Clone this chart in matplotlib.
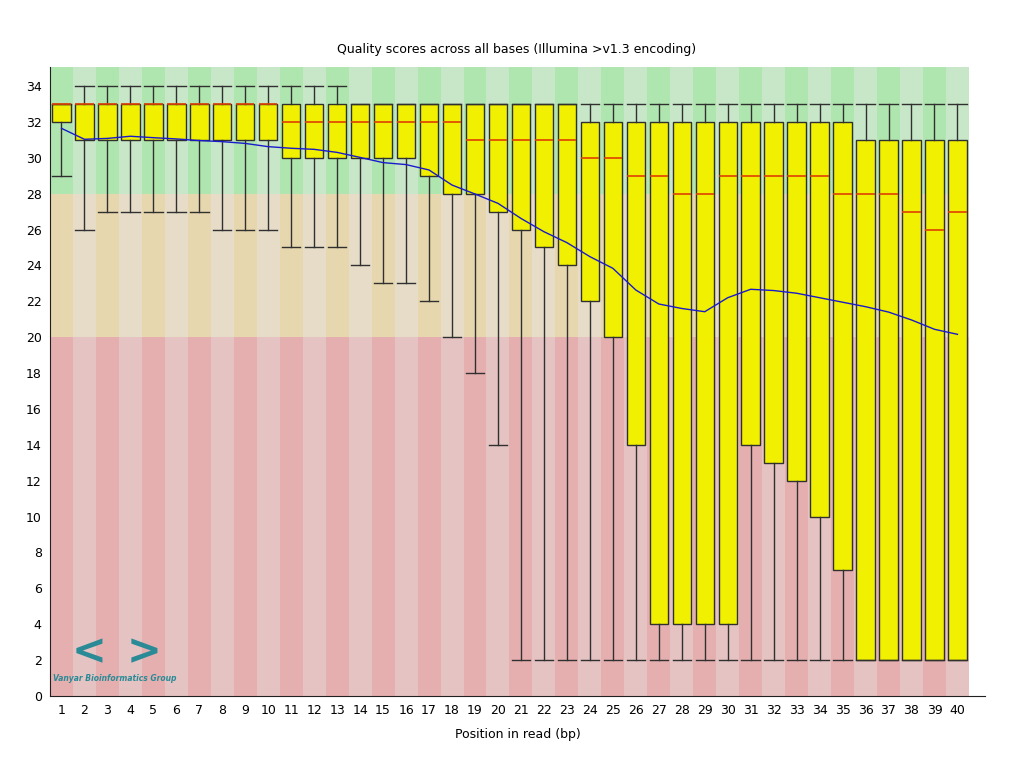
import matplotlib
matplotlib.use("Agg")
import matplotlib.pyplot as plt
import numpy as np

# per-base quality stats
positions = list(range(1, 41))
q1 = [32, 31, 31, 31, 31, 31, 31, 31, 31, 31,
      30, 30, 30, 30, 30, 30, 29, 28, 28, 27,
      26, 25, 24, 22, 20, 14, 4, 4, 4, 4,
      14, 13, 12, 10, 7, 2, 2, 2, 2, 2]
q3 = [33] * 23 + [32] * 12 + [31] * 5
medians = [33] * 10 + [32] * 8 + [31] * 5 + [30, 30, 29, 29, 28, 28, 29,
                                             29, 29, 29, 29, 28, 28, 28, 27, 26, 27]
whisker_lo = [29, 26, 27, 27, 27, 27, 27, 26, 26, 26,
              25, 25, 25, 24, 23, 23, 22, 20, 18, 14] + [2] * 20
whisker_hi = [33] + [34] * 12 + [33] * 27
means = [31.64, 31.03, 31.08, 31.2, 31.12, 31.05, 30.96, 30.9, 30.8, 30.62,
         30.53, 30.47, 30.3, 30.02, 29.73, 29.62, 29.32, 28.48, 27.98, 27.46,
         26.62, 25.88, 25.27, 24.49, 23.84, 22.63, 21.85, 21.6, 21.42, 22.2,
         22.67, 22.6, 22.45, 22.2, 21.95, 21.7, 21.4, 20.96, 20.44, 20.16]

# background quality zones (bottom, top) and alternating colours
zones = [(0, 20, "#e6afaf", "#e6c3c3"),
         (20, 28, "#e6d7ae", "#e6dcc8"),
         (28, 35.06, "#afe6af", "#c8e6c8")]

fig = plt.figure(figsize=(10.24, 7.68), dpi=100)
ax = fig.add_axes([50 / 1024, 1 - 696 / 768, 935 / 1024, 629 / 768])

pos = np.array(positions)
for lo, hi, dark, light in zones:
    colors = [dark if p % 2 == 1 else light for p in positions]
    ax.bar(pos, hi - lo, bottom=lo, width=1.0, color=colors, linewidth=0, zorder=0)

stats = []
for i in range(len(positions)):
    stats.append({
        "med": medians[i], "q1": q1[i], "q3": q3[i],
        "whislo": whisker_lo[i], "whishi": whisker_hi[i], "fliers": [],
    })

ax.bxp(stats, positions=positions, widths=0.8, capwidths=0.8,
       patch_artist=True, showfliers=False, manage_ticks=False,
       boxprops=dict(facecolor="#f0f000", edgecolor="#303030", linewidth=1),
       medianprops=dict(color="#e04000", linewidth=1.2),
       whiskerprops=dict(color="#303030", linewidth=1),
       capprops=dict(color="#303030", linewidth=1),
       zorder=2)

ax.plot(positions, means, color="#1a1acc", linewidth=1, zorder=3)

ax.set_xlim(0.5, 41.2)
ax.set_ylim(0, 35.06)
ax.set_xticks(positions)
ax.set_yticks(range(0, 35, 2))
ax.tick_params(length=0, labelsize=9, pad=6)
for side in ["top", "right"]:
    ax.spines[side].set_visible(False)
ax.spines["left"].set_color("#202020")
ax.spines["bottom"].set_color("#202020")

ax.set_xlabel("Position in read (bp)", fontsize=9, labelpad=8)
fig.text(0.504, 1 - 49 / 768, "Quality scores across all bases (Illumina >v1.3 encoding)",
         ha="center", va="center", fontsize=9)

# watermark logo text
ax.text(3.3, 0.95, "Vanyar Bioinformatics Group", fontsize=5.5, style="italic",
        fontweight="bold", color="#2a8a96", ha="center", va="center", zorder=4)
ax.text(2.2, 2.45, "<", fontsize=30, fontweight="bold", color="#2a8a96",
        ha="center", va="center", zorder=4)
ax.text(4.6, 2.45, ">", fontsize=30, fontweight="bold", color="#2a8a96",
        ha="center", va="center", zorder=4)

fig.savefig("out.png", dpi=100)
